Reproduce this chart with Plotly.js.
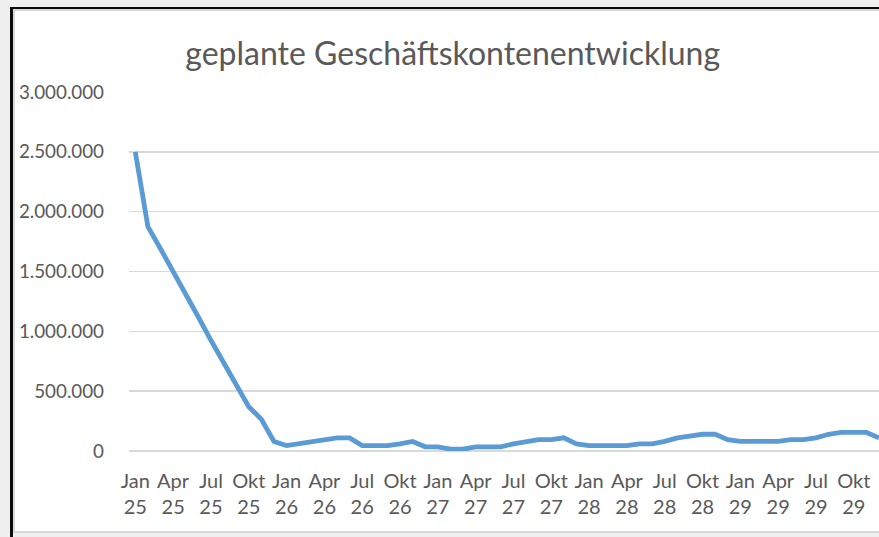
<!DOCTYPE html>
<html>
<head>
<meta charset="utf-8">
<script src="https://cdn.plot.ly/plotly-3.0.1.min.js"></script>
<style>
  body { margin: 0; background: #f0f0f0; width: 879px; height: 537px; overflow: hidden; position: relative; }
  #blackFrame { position: absolute; left: 10px; top: 7px; width: 880px; height: 540px;
    border-left: 3px solid #0d0d0d; border-top: 2px solid #0d0d0d; }
  #chartBox { position: absolute; left: 13px; top: 9px; width: 880px; height: 520px;
    background: #fff; border-left: 2px solid #d9d9d9; border-top: 2px solid #d9d9d9; border-bottom: 2px solid #d9d9d9; }
  #plot { position: absolute; left: 0px; top: 12px; width: 879px; height: 517px; }
</style>
</head>
<body>
<div id="blackFrame"></div>
<div id="chartBox"></div>
<div id="plot"></div>
<script>
// month names (German) and years of the planning period
var monthNames = ["Jan", "Feb", "Mär", "Apr", "Mai", "Jun", "Jul", "Aug", "Sep", "Okt", "Nov", "Dez"];
var years = ["25", "26", "27", "28", "29"];

// planned number of business accounts, one value per month (Jan 25 - Dez 29)
var accounts = [
  2500000, 1875000, 1690000, 1505000, 1310000, 1120000, 925000, 740000, 555000, 370000, 265000, 80000,
  45000, 60000, 75000, 90000, 110000, 110000, 45000, 45000, 45000, 60000, 80000, 35000,
  35000, 15000, 15000, 35000, 35000, 35000, 60000, 80000, 95000, 95000, 110000, 60000,
  45000, 45000, 45000, 45000, 60000, 60000, 80000, 110000, 125000, 140000, 140000, 95000,
  80000, 80000, 80000, 80000, 95000, 95000, 110000, 140000, 155000, 155000, 155000, 110000
];

// build category labels "Jan 25", "Feb 25", ...
var months = [];
years.forEach(function(y) {
  monthNames.forEach(function(m) { months.push(m + " " + y); });
});

// only every third month gets a tick label (Jan, Apr, Jul, Okt)
var tickVals = months.filter(function(m, i) { return i % 3 === 0; });
var tickText = tickVals.map(function(m) { return m.replace(" ", "<br>"); });

var trace = {
  x: months,
  y: accounts,
  type: "scatter",
  mode: "lines",
  line: { color: "#5b9bd5", width: 4.8 },
  hoverinfo: "skip"
};

var layout = {
  width: 879,
  height: 517,
  margin: { l: 129, r: 0, t: 80, b: 78 },
  paper_bgcolor: "rgba(0,0,0,0)",
  plot_bgcolor: "#ffffff",
  separators: ",.",
  showlegend: false,
  font: { family: "Lato, 'Open Sans', sans-serif", color: "#595959", size: 20 },
  title: {
    text: "geplante Geschäftskontenentwicklung",
    font: { family: "Lato, 'Open Sans', sans-serif", size: 32, color: "#595959" },
    xref: "container", x: 0.515, xanchor: "center",
    yref: "container", y: 0.92, yanchor: "middle"
  },
  xaxis: {
    type: "category",
    range: [-0.5, 59],
    tickmode: "array",
    tickvals: tickVals,
    ticktext: tickText,
    ticks: "",
    showgrid: false,
    showline: false,
    zeroline: false,
    ticklabelstandoff: 16,
    tickfont: { size: 20, color: "#595959" }
  },
  yaxis: {
    range: [0, 3000000],
    dtick: 500000,
    tickformat: ",d",
    ticks: "",
    showline: false,
    gridcolor: "#d9d9d9",
    gridwidth: 1.5,
    zeroline: true,
    zerolinecolor: "#d9d9d9",
    zerolinewidth: 1.5,
    ticklabelstandoff: 24,
    tickfont: { size: 18.8, color: "#595959" }
  }
};

Plotly.newPlot("plot", [trace], layout, { displayModeBar: false, staticPlot: true });
</script>
</body>
</html>
